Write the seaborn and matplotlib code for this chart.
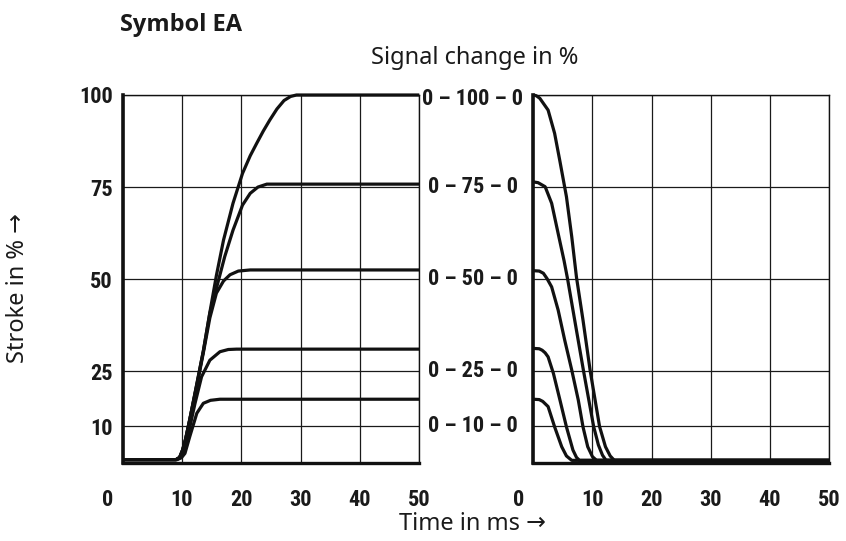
import matplotlib
matplotlib.use("Agg")
import matplotlib.pyplot as plt
from matplotlib import transforms
import pandas as pd
import seaborn as sns

# ---------------- data ----------------
series_names = ["100", "75", "50", "25", "10"]

# rising step responses (left panel): time in ms, stroke in %
rise_t_100 = [0, 9.0, 9.6, 10.1, 10.6, 11.3, 12.5, 13.6, 14.7, 15.8, 17.0, 18.6, 20.2, 21.5, 22.6, 23.7, 24.8, 26.0, 27.2, 28.3, 29.3, 50]
rise_v_100 = [1.0, 1.0, 1.6, 3.6, 6.5, 11.8, 21.5, 30.5, 41.0, 51.0, 60.6, 70.6, 78.7, 83.5, 86.9, 90.2, 93.2, 96.2, 98.5, 99.6, 100, 100]
rise_t_75 = [0, 9.0, 9.6, 10.1, 10.6, 11.3, 12.5, 13.6, 14.7, 15.8, 17.2, 18.6, 20.2, 21.5, 22.8, 24.3, 50]
rise_v_75 = [1.0, 1.0, 1.6, 3.6, 6.5, 11.8, 21.5, 30.5, 40.8, 47.5, 56.1, 63.3, 70.1, 73.3, 75.0, 75.8, 75.8]
rise_t_50 = [0, 9.0, 9.6, 10.1, 10.6, 11.3, 12.5, 13.6, 14.7, 15.8, 17.0, 18.1, 19.5, 21.5, 50]
rise_v_50 = [1.0, 1.0, 1.6, 3.6, 6.5, 11.8, 21.0, 30.0, 39.5, 46.2, 49.5, 51.2, 52.2, 52.5, 52.5]
rise_t_25 = [0, 9.0, 9.7, 10.3, 11.0, 12.2, 13.3, 14.7, 16.4, 17.8, 19.2, 50]
rise_v_25 = [1.0, 1.0, 1.6, 3.5, 7.5, 16.3, 23.5, 28.0, 30.3, 30.9, 31.0, 31.0]
rise_t_10 = [0, 9.2, 9.9, 10.5, 11.3, 12.5, 13.6, 14.8, 16.4, 50]
rise_v_10 = [1.0, 1.0, 1.5, 2.7, 7.2, 13.6, 16.3, 17.1, 17.4, 17.4]

# falling responses (right panel)
fall_t_100 = [0, 0.5, 1.1, 2.5, 3.6, 4.5, 5.6, 6.5, 7.3, 8.4, 9.6, 11.2, 12.2, 13.0, 13.7, 50]
fall_v_100 = [100, 99.8, 99.1, 95.9, 89.6, 82.0, 72.4, 61.5, 50.5, 38.9, 25.3, 10.0, 4.5, 2.0, 0.8, 0.8]
fall_t_75 = [0, 0.8, 2.0, 3.1, 4.2, 5.2, 5.8, 7.2, 8.5, 10.2, 11.0, 11.7, 12.3, 50]
fall_v_75 = [76.4, 76.2, 75.1, 70.6, 62.4, 55.0, 50.0, 37.0, 25.0, 10.0, 5.0, 2.2, 0.8, 0.8]
fall_t_50 = [0, 1.0, 1.7, 2.3, 3.1, 4.2, 5.3, 6.5, 7.6, 8.4, 9.2, 10.0, 10.7, 50]
fall_v_50 = [52.3, 52.2, 51.6, 50.2, 47.9, 41.6, 33.5, 25.3, 17.2, 9.9, 4.5, 1.8, 0.8, 0.8]
fall_t_25 = [0, 1.0, 1.5, 2.0, 2.5, 3.4, 4.5, 5.6, 6.7, 7.3, 7.8, 50]
fall_v_25 = [31.2, 31.1, 30.7, 30.0, 28.9, 24.4, 17.2, 9.9, 3.6, 1.6, 0.8, 0.8]
fall_t_10 = [0, 1.0, 1.6, 2.5, 3.6, 4.8, 5.6, 6.5, 50]
fall_v_10 = [17.4, 17.3, 16.8, 15.4, 9.9, 4.5, 2.0, 0.8, 0.8]

x_ticks = [0, 10, 20, 30, 40, 50]
x_tick_labels = ["0", "10", "20", "30", "40", "50"]
y_levels = [10, 25, 50, 75, 100]
y_tick_labels = ["10", "25", "50", "75", "100"]
signal_labels = ["0 – 10 – 0", "0 – 25 – 0", "0 – 50 – 0", "0 – 75 – 0", "0 – 100 – 0"]

title = "Symbol EA"
top_label = "Signal change in %"
x_label = "Time in ms →"
y_label = "Stroke in % →"

# ---------------- build tables ----------------
def table(pairs):
    rows = []
    for name, (ts, vs) in zip(series_names, pairs):
        for t, v in zip(ts, vs):
            rows.append({"series": name, "t": t, "v": v})
    return pd.DataFrame(rows)

rise_df = table([(rise_t_100, rise_v_100), (rise_t_75, rise_v_75), (rise_t_50, rise_v_50),
                 (rise_t_25, rise_v_25), (rise_t_10, rise_v_10)])
fall_df = table([(fall_t_100, fall_v_100), (fall_t_75, fall_v_75), (fall_t_50, fall_v_50),
                 (fall_t_25, fall_v_25), (fall_t_10, fall_v_10)])

# ---------------- figure ----------------
sns.set_theme(style="white")
plt.rcParams["font.family"] = ["Noto Sans", "DejaVu Sans"]
narrow = ["Roboto Condensed", "DejaVu Sans"]
title_font = ["Open Sans", "DejaVu Sans"]
num_size = 16
label_size = 17

fig = plt.figure(figsize=(8.46, 5.41), dpi=100)
axL = fig.add_axes([0.1450, 0.1436, 0.3506, 0.6808])
axR = fig.add_axes([0.6304, 0.1436, 0.3495, 0.6808])

palette = ["#111111"] * 5
for ax, df in ((axL, rise_df), (axR, fall_df)):
    sns.lineplot(data=df, x="t", y="v", hue="series", palette=palette, legend=False,
                 estimator=None, sort=False, linewidth=2.3, ax=ax, zorder=3)
    for ln in ax.get_lines():
        ln.set_clip_on(False)
        ln.set_solid_joinstyle("round")
        ln.set_solid_capstyle("butt")
    ax.set_xlim(0, 50)
    ax.set_ylim(0, 100)
    ax.set_xticks(x_ticks)
    ax.set_yticks(y_levels)
    ax.grid(True, color="#1a1a1a", linewidth=0.9)
    ax.set_axisbelow(True)
    ax.set_xlabel("")
    ax.set_ylabel("")
    for side in ("top", "right"):
        ax.spines[side].set_linewidth(1.0)
        ax.spines[side].set_color("#111111")
    ax.spines["left"].set_linewidth(2.6)
    ax.spines["bottom"].set_linewidth(2.4)
    ax.spines["left"].set_color("#111111")
    ax.spines["bottom"].set_color("#111111")
    ax.tick_params(axis="x", length=0, pad=18.5)
    ax.tick_params(axis="y", length=0, pad=7.0)
    ax.set_xticklabels(x_tick_labels, fontfamily=narrow, fontweight="bold", fontsize=num_size, color="#1a1a1a")
    # shift the "0" label to the left as in the reference
    lab0 = ax.get_xticklabels()[0]
    lab0.set_transform(lab0.get_transform() + transforms.ScaledTranslation(-0.15, 0, fig.dpi_scale_trans))

axL.set_yticklabels(y_tick_labels, fontfamily=narrow, fontweight="bold", fontsize=num_size, color="#1a1a1a")
axR.set_yticklabels([])

# signal-change labels between the panels
trans = transforms.blended_transform_factory(fig.transFigure, axL.transData)
for lvl, lab in zip(y_levels, signal_labels):
    axL.text(0.559, lvl - (1 if lvl == 100 else 0), lab, transform=trans, ha="center", va="center",
             fontfamily=narrow, fontweight="bold", fontsize=num_size, color="#1a1a1a", clip_on=False)

fig.text(120 / 846, 1 - 31 / 541, title, ha="left", va="baseline", fontsize=17,
         fontfamily=title_font, fontweight="bold", color="#1a1a1a")
fig.text(475 / 846, 1 - 58 / 541, top_label, ha="center", va="center", fontsize=label_size, color="#1a1a1a")
fig.text(472 / 846, 1 - 524 / 541, x_label, ha="center", va="center", fontsize=label_size, color="#1a1a1a")
fig.text(18 / 846, 1 - 288 / 541, y_label, ha="center", va="center", rotation=90, fontsize=label_size,
         color="#1a1a1a")

fig.savefig("out.png", dpi=100)
